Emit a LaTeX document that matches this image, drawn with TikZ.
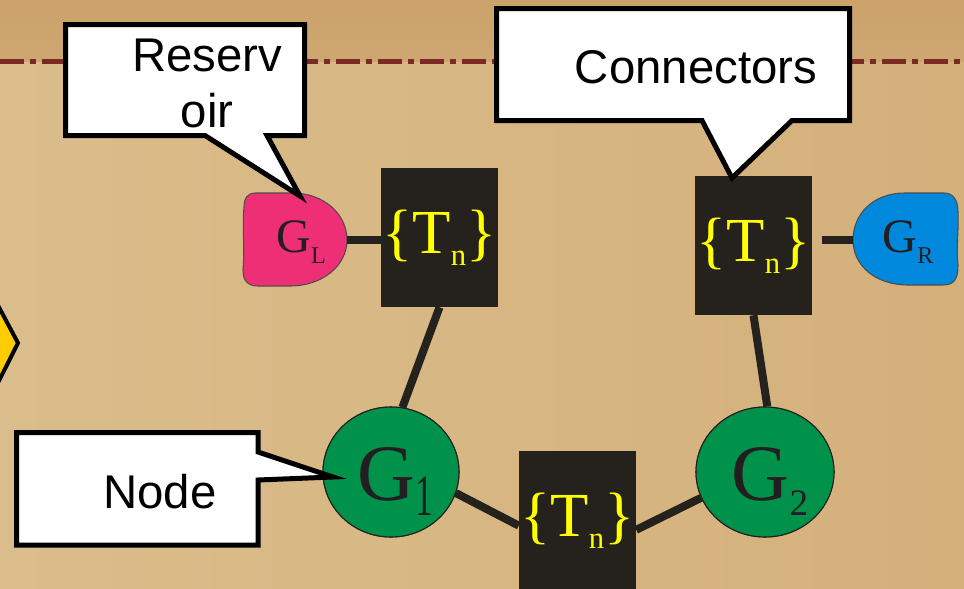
\documentclass[tikz,border=0pt]{standalone}
\usepackage{fontspec}
\setmainfont{Liberation Serif}
\newfontfamily\calloutfont{Liberation Sans}
\usetikzlibrary{shapes.geometric}

\definecolor{bandtop}{HTML}{CEA671}
\definecolor{bandtopR}{HTML}{CBA26B}
\definecolor{groundL}{HTML}{DABD8B}
\definecolor{groundR}{HTML}{D4B07B}
\definecolor{ruleRed}{HTML}{7A2A22}
\definecolor{darkbox}{HTML}{25221E}
\definecolor{inkdark}{HTML}{231F20}
\definecolor{nodegreen}{HTML}{00914A}
\definecolor{respink}{HTML}{EE2F76}
\definecolor{resblue}{HTML}{0088DD}
\definecolor{warnyellow}{HTML}{FFCC00}
\definecolor{tnyellow}{HTML}{FFFF00}

% set labels
\newcommand\mytn{\fontsize{47pt}{52pt}\selectfont\{T\raisebox{-9pt}{\fontsize{23pt}{26pt}\selectfont n}\}}

\begin{document}
\begin{tikzpicture}[x=0.75pt,y=-0.75pt,
  tnbox/.style={rectangle,fill=darkbox,draw=none,minimum width=87.75pt,
    minimum height=104.25pt,inner sep=0pt,text=tnyellow},
  gnode/.style={ellipse,fill=nodegreen,draw=inkdark,line width=0.8pt,
    minimum height=97.5pt,inner sep=0pt},
  link/.style={draw=darkbox,line width=6pt},
  callout/.style={fill=white,draw=black,line width=3.75pt,line join=miter},
  callouttext/.style={font=\calloutfont\fontsize{35.5pt}{42pt}\selectfont,
    inner sep=0pt,text=black},
  gtext/.style={inner sep=0pt,text=inkdark},
  blob/.style={draw=inkdark!80,line width=0.8pt}
]
\useasboundingbox (0,0) rectangle (964,589);
\clip (0,0) rectangle (964,589);

% background: upper band and lower ground
\shade[left color=groundL,right color=groundR] (0,61) rectangle (964,589);
\shade[top color=bandtopR,bottom color=bandtop] (0,0) rectangle (964,61);
\draw[ruleRed,line width=3.75pt,dash pattern=on 18pt off 4.5pt on 4.5pt off 4.5pt]
  (0,61) -- (964,61);

% partly visible warning diamond at the left edge
\draw[fill=warnyellow,line width=3pt,line join=miter]
  (-40,234) -- (18,343) -- (-40,458) -- cycle;

% transfer-matrix boxes
\node[tnbox] (box1) at (439.5,237.5) {\mytn};
\node[tnbox] (box2) at (753.5,245.5) {\mytn};
\node[tnbox] (box3) at (577.5,520.5) {\mytn};

% graph nodes
\node[gnode,minimum width=102pt] (G1) at (391,472) {};
\node[gnode,minimum width=103.5pt] (G2) at (765,472) {};

% reservoirs
\fill[respink] (255,193) -- (292,193) .. controls (325,193) and (347,215) .. (347,240)
  .. controls (347,266) and (322,286) .. (290,286) -- (258,286)
  .. controls (247,286) and (243,280) .. (243,270)
  .. controls (245,245) and (242,230) .. (244,207)
  .. controls (244,198) and (248,193) .. (255,193) -- cycle;
\draw[blob] (255,193) -- (292,193) .. controls (325,193) and (347,215) .. (347,240)
  .. controls (347,266) and (322,286) .. (290,286) -- (258,286)
  .. controls (247,286) and (243,280) .. (243,270)
  .. controls (245,245) and (242,230) .. (244,207)
  .. controls (244,198) and (248,193) .. (255,193) -- cycle;
\coordinate (GLe) at (347,240);

\fill[resblue] (944,193) -- (905,193) .. controls (872,193) and (853,215) .. (853,240)
  .. controls (853,266) and (876,285) .. (908,285) -- (943,285)
  .. controls (955,285) and (958,278) .. (958,265)
  .. controls (956,245) and (959,230) .. (958,212)
  .. controls (958,200) and (953,193) .. (944,193) -- cycle;
\draw[blob] (944,193) -- (905,193) .. controls (872,193) and (853,215) .. (853,240)
  .. controls (853,266) and (876,285) .. (908,285) -- (943,285)
  .. controls (955,285) and (958,278) .. (958,265)
  .. controls (956,245) and (959,230) .. (958,212)
  .. controls (958,200) and (953,193) .. (944,193) -- cycle;
\coordinate (GRw) at (853,240);

% connectors
\draw[link] (GLe) -- (box1.west |- GLe);
\draw[link,shorten <=7pt] (box2.east |- GRw) -- (GRw);
\draw[link] (box1.south) -- (G1.80);
\draw[link] (box2.south) -- (G2.88);
\draw[link] (G1.342) -- (box3.185);
\draw[link] (box3.351) -- (G2.202);

% redraw node faces over the link ends
\node[gnode,minimum width=102pt] at (G1) {};
\node[gnode,minimum width=103.5pt] at (G2) {};
\node[tnbox] at (box1) {\mytn};
\node[tnbox] at (box2) {\mytn};
\node[tnbox] at (box3) {\mytn};

% node labels
\node[gtext,anchor=base] (g1txt) at (395,500)
  {\fontsize{60pt}{60pt}\selectfont G\raisebox{-11.25pt}{\fontsize{44pt}{44pt}\selectfont\scalebox{0.6}[1]{1}}};
\node[gtext,anchor=base] (g2txt) at (770,500)
  {\fontsize{60pt}{60pt}\selectfont G\raisebox{-11.25pt}{\fontsize{28pt}{30pt}\selectfont 2}};
\node[gtext,anchor=base] (gltxt) at (301,252)
  {\fontsize{36pt}{40pt}\selectfont G\raisebox{-8.25pt}{\fontsize{18pt}{20pt}\selectfont L}};
\node[gtext,anchor=base] (grtxt) at (908,252)
  {\fontsize{36pt}{40pt}\selectfont G\raisebox{-8.25pt}{\fontsize{18pt}{20pt}\selectfont R}};

% callouts
\draw[callout] (65.5,24.5) -- (304.5,24.5) -- (304.5,135.5) -- (267,135.5)
  -- (300,196) -- (205,135.5) -- (65.5,135.5) -- cycle;
\node[callouttext,align=center] (restxt) at (207,83) {Reserv\\oir};

\draw[callout] (496.5,8.5) -- (849.5,8.5) -- (849.5,120.5) -- (792,120.5)
  -- (732,178) -- (702,120.5) -- (496.5,120.5) -- cycle;
\node[callouttext,anchor=base] (contxt) at (696,83) {Connectors};

\draw[callout] (16.5,432.5) -- (258,432.5) -- (258,452) -- (333,477)
  -- (258,480) -- (258,545) -- (16.5,545) -- cycle;
\node[callouttext,anchor=base] (nodetxt) at (160,508) {Node};
\end{tikzpicture}
\end{document}
